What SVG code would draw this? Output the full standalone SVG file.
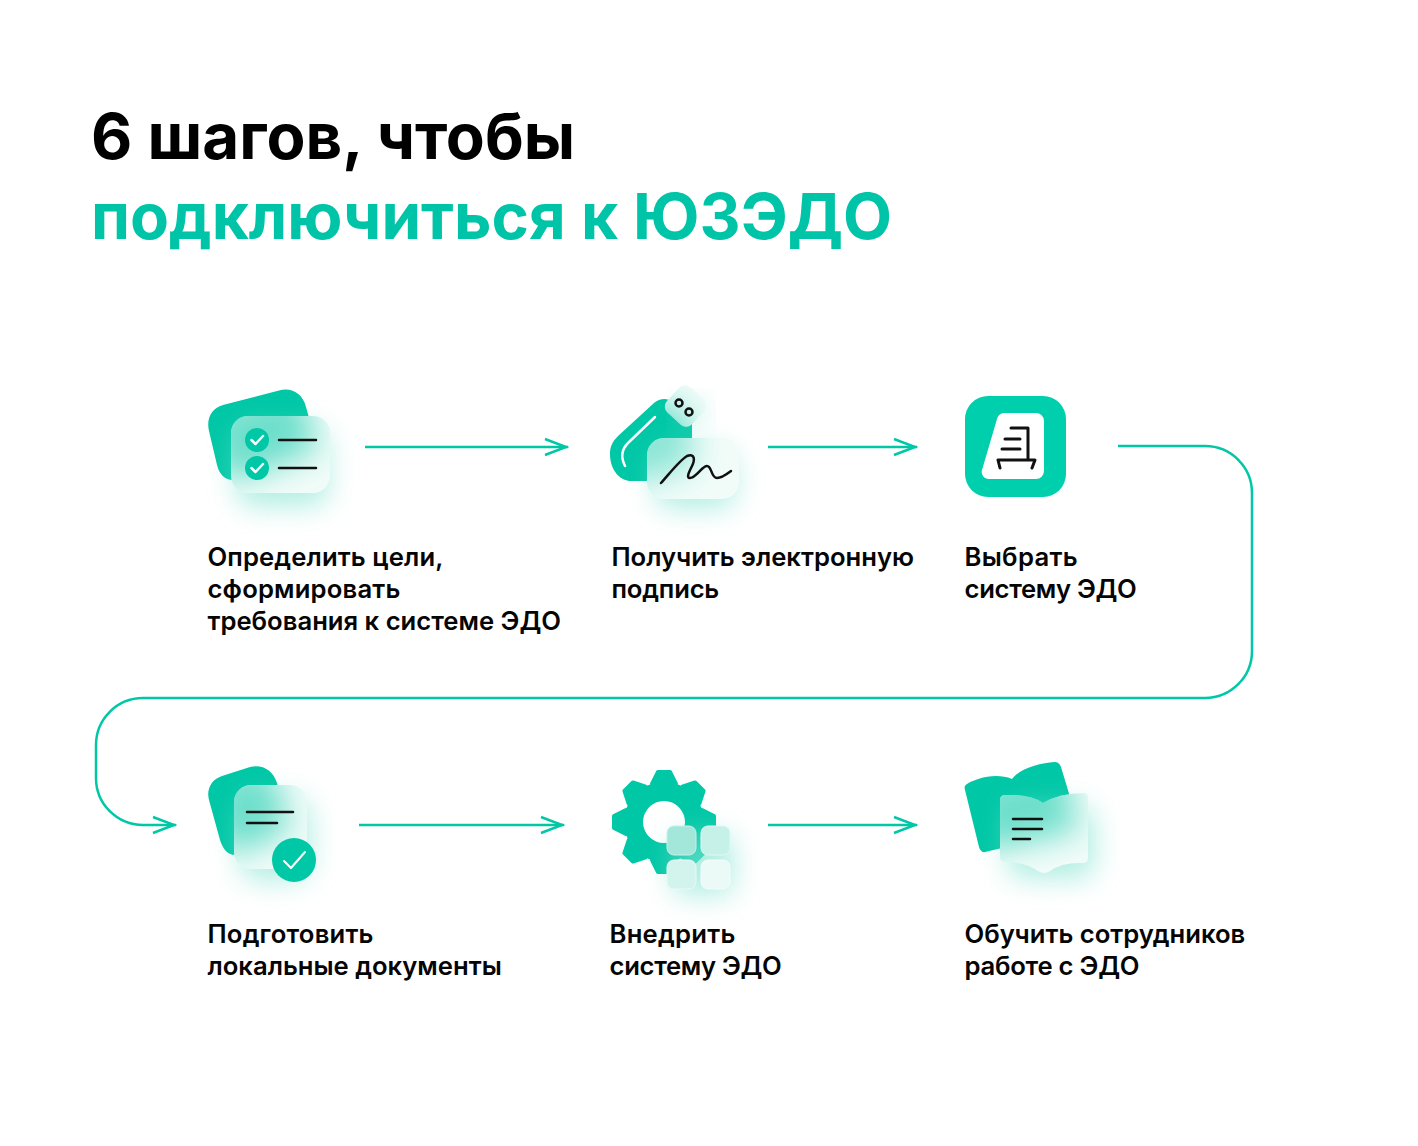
<svg xmlns="http://www.w3.org/2000/svg" width="1418" height="1146" viewBox="0 0 1418 1146">
<style>
.t{font-family:Inter,"Liberation Sans",sans-serif;font-weight:600;font-size:25.65px;fill:#050505}
.h{font-family:Inter,"Liberation Sans",sans-serif;font-weight:700;font-size:63.7px}
.c{fill:none;stroke:#00c7a6;stroke-width:2.5}
.g{fill:#00c7a6}
.k{fill:none;stroke:#111;stroke-width:2.5;stroke-linecap:round;stroke-linejoin:round}
.w{fill:none;stroke:#fff;stroke-width:2.5;stroke-linecap:round;stroke-linejoin:round}
.base{fill:#f1fcf9}
.sh{fill:#7fe3d0;opacity:.62;filter:url(#sh)}
.fr{fill:#00c7a6;opacity:.55;filter:url(#fr)}
</style>
<defs>
<filter id="sh" x="-60%" y="-60%" width="220%" height="220%"><feGaussianBlur stdDeviation="14"/></filter>
<filter id="fr" x="-50%" y="-50%" width="200%" height="200%"><feGaussianBlur stdDeviation="16"/></filter>
<marker id="a" viewBox="0 0 28 20" refX="24" refY="10" markerWidth="28" markerHeight="20" markerUnits="userSpaceOnUse" orient="auto"><path d="M1 2L22 10L1 18" fill="none" stroke="#00c7a6" stroke-width="2.5"/></marker>
<path id="b1" d="M223 405L279 390.500C292 387 303 394 306 407L318 450L240 480C226 482 220 476 217 465L209 431C206 418 212 408 223 405Z"/>
<path id="b2" d="M654 403C660 398 668 398 672 402L692 424V470H660V481H634C618 482 610 468 610 454C610 446 613 441 618 436Z"/>
<path id="b4" d="M222 776L250 767C262 764 273 770 277 783L290 830L233 855C225 853 222 846 220 840L209 800C206 789 212 779 222 776Z"/>
<path id="b6" d="M967 784C975 779 995 772 1012 779C1020 768 1040 763 1055 762C1058 762 1060 764 1061 767L1080 830L985 852C982 853 980 850 979 847L965 790C964 787 965 785 967 784Z"/>
<path id="p6" d="M1000 800Q1000 795 1005 795Q1030 794 1043 803Q1060 793 1083 793Q1088 793 1088 798V858Q1088 863 1083 863Q1062 862 1050 871Q1044 875 1038 871Q1025 862 1005 862Q1000 862 1000 857Z"/>
<path id="tooth" d="M-12-38L-6-50H6L12-38Z" fill="#00c7a6" stroke="#00c7a6" stroke-width="4" stroke-linejoin="round"/>
<clipPath id="c1"><rect x="231" y="416" width="99" height="77" rx="17"/></clipPath>
<clipPath id="c2"><rect x="647" y="438" width="92" height="61" rx="17"/></clipPath>
<clipPath id="c2h"><rect x="668.500" y="389" width="34" height="34" rx="8" transform="rotate(42 685.500 406)"/></clipPath>
<clipPath id="c4"><rect x="234" y="785" width="73" height="84" rx="17"/></clipPath>
<clipPath id="c6"><use href="#p6"/></clipPath>
</defs>
<rect width="1418" height="1146" fill="#fff"/>
<g id="title">
<text class="h" x="91" y="159" fill="#000">6 шагов, чтобы</text>
<text class="h" x="91" y="239" fill="#00c4a7">подключиться к ЮЗЭДО</text>
</g>
<g id="connectors">
<path class="c" marker-end="url(#a)" d="M365 447H568"/>
<path class="c" marker-end="url(#a)" d="M768 447H917"/>
<path class="c" marker-end="url(#a)" d="M1118 446H1205A47 47 0 0 1 1252 493V651A47 47 0 0 1 1205 698H143A47 47 0 0 0 96 745V778A47 47 0 0 0 143 825H176"/>
<path class="c" marker-end="url(#a)" d="M359 825H564"/>
<path class="c" marker-end="url(#a)" d="M768 825H917"/>
</g>
<g id="step1">
<use href="#b1" class="g"/>
<rect x="236" y="428" width="92" height="78" rx="18" class="sh"/>
<rect x="231" y="416" width="99" height="77" rx="17" class="base"/>
<g clip-path="url(#c1)"><use href="#b1" class="fr"/></g>
<circle cx="257" cy="440" r="12" class="g"/><path class="w" d="M251.500 440L255.500 444L263 436"/>
<circle cx="257" cy="468" r="12" class="g"/><path class="w" d="M251.500 468L255.500 472L263 464"/>
<path class="k" d="M279 440H316M279 468H316"/>
<text class="t"><tspan x="207.500" y="566" letter-spacing=".12">Определить цели,</tspan><tspan x="207.500" y="598" letter-spacing=".17">сформировать</tspan><tspan x="207.500" y="630">требования к системе ЭДО</tspan></text>
</g>
<g id="step2">
<use href="#b2" class="g"/>
<path class="w" d="M655 417L628 443C621 450 621 458 625 466"/>
<rect x="655" y="450" width="80" height="58" rx="16" class="sh"/>
<rect x="680" y="402" width="22" height="22" rx="8" class="sh"/>
<rect x="668.500" y="389" width="34" height="34" rx="8" transform="rotate(42 685.500 406)" class="base"/>
<g clip-path="url(#c2h)"><use href="#b2" class="fr"/></g>
<circle cx="679" cy="403" r="3.500" class="k"/><circle cx="689" cy="412" r="3.500" class="k"/>
<rect x="647" y="438" width="92" height="61" rx="17" class="base"/>
<g clip-path="url(#c2)"><use href="#b2" class="fr" style="opacity:.42"/></g>
<path class="k" d="M661 483C670 473 680 460 687 456C695 453 695 460 692 466C689 472 686 478 690 478C696 478 702 466 707 466C712 466 711 478 717 478C722 478 727 474 731 471"/>
<text class="t"><tspan x="611.500" y="566">Получить электронную</tspan><tspan x="611.500" y="598" letter-spacing="-.2">подпись</tspan></text>
</g>
<g id="step3">
<rect x="965" y="396" width="101" height="101" rx="23" fill="#00cfae"/>
<path fill="#fff" d="M1004 413H1036A8 8 0 0 1 1044 421V471A8 8 0 0 1 1036 479H989A7 7 0 0 1 982 470L997 419A8 8 0 0 1 1004 413Z"/>
<path class="k" style="stroke-width:3" d="M1011 428H1028V460M1005 439H1020M1002 449H1020M1000 468L998 460H1035L1032 468"/>
<text class="t"><tspan x="964.500" y="566" letter-spacing=".3">Выбрать</tspan><tspan x="964.500" y="598" letter-spacing="-.3">систему ЭДО</tspan></text>
</g>
<g id="step4">
<use href="#b4" class="g"/>
<rect x="240" y="798" width="70" height="82" rx="18" class="sh"/>
<rect x="234" y="785" width="73" height="84" rx="17" class="base"/>
<g clip-path="url(#c4)"><use href="#b4" class="fr"/></g>
<path class="k" d="M247 812H293M247 823H277"/>
<circle cx="294" cy="860" r="22" class="g"/><path class="w" style="stroke-width:2" d="M284 861L291 868L305 852"/>
<text class="t"><tspan x="207.500" y="943" letter-spacing=".2">Подготовить</tspan><tspan x="207.500" y="975">локальные документы</tspan></text>
</g>
<g id="step5">
<path class="g" fill-rule="evenodd" d="M664 782A40 40 0 1 0 664 862A40 40 0 1 0 664 782ZM664 801A21 21 0 1 1 664 843A21 21 0 1 1 664 801Z"/>
<use href="#tooth" transform="translate(664 822)"/>
<use href="#tooth" transform="translate(664 822) rotate(45)"/>
<use href="#tooth" transform="translate(664 822) rotate(90)"/>
<use href="#tooth" transform="translate(664 822) rotate(135)"/>
<use href="#tooth" transform="translate(664 822) rotate(180)"/>
<use href="#tooth" transform="translate(664 822) rotate(225)"/>
<use href="#tooth" transform="translate(664 822) rotate(270)"/>
<use href="#tooth" transform="translate(664 822) rotate(315)"/>
<rect x="673" y="835" width="60" height="60" rx="10" class="sh"/>
<rect x="667" y="826" width="29" height="29" rx="7" fill="#a2e7da" stroke="#c6f1e9"/>
<rect x="701" y="826" width="29" height="29" rx="7" fill="#c6f1e8" stroke="#e0f8f3"/>
<rect x="667" y="860" width="29" height="29" rx="7" fill="#d3f4ed" stroke="#e8faf6"/>
<rect x="701" y="860" width="29" height="29" rx="7" fill="#ebfaf7" stroke="#f4fdfb"/>
<text class="t"><tspan x="609.500" y="943" letter-spacing=".25">Внедрить</tspan><tspan x="609.500" y="975" letter-spacing="-.3">систему ЭДО</tspan></text>
</g>
<g id="step6">
<use href="#b6" class="g"/>
<rect x="1008" y="806" width="86" height="72" rx="14" class="sh"/>
<use href="#p6" class="base"/>
<g clip-path="url(#c6)"><use href="#b6" class="fr"/></g>
<path class="k" d="M1013 819H1042M1013 829H1042M1013 839H1030"/>
<text class="t"><tspan x="964.500" y="943">Обучить сотрудников</tspan><tspan x="964.500" y="975" letter-spacing="-.25">работе с ЭДО</tspan></text>
</g>
</svg>
